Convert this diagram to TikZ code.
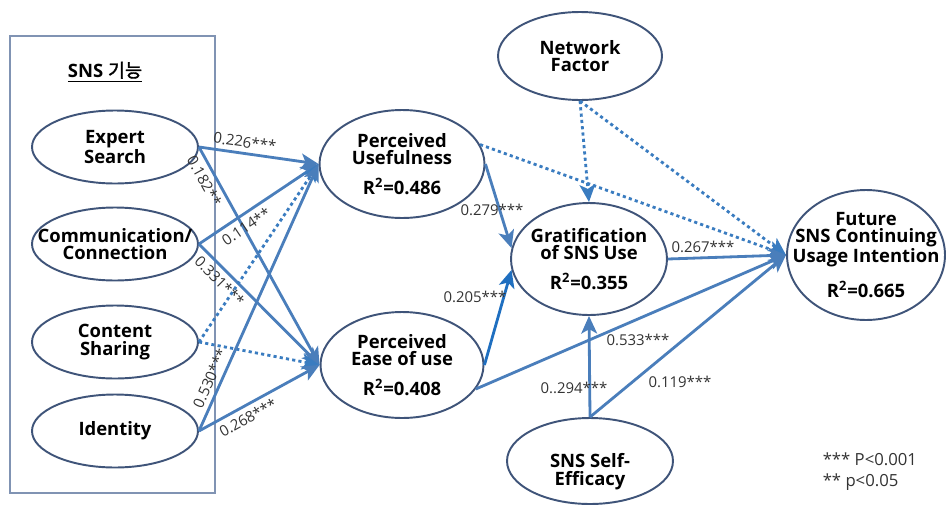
\documentclass[tikz,border=0pt]{standalone}
\usepackage{fontspec}
\setmainfont{Open Sans}
\newfontfamily\kr[AutoFakeBold=2]{Noto Sans CJK KR}
\usepackage{tikz}
\usetikzlibrary{arrows.meta,shapes.geometric}
\definecolor{rand}{RGB}{63,84,121}
\definecolor{ramme}{RGB}{128,147,179}
\definecolor{linie}{RGB}{74,126,187}
\definecolor{klar}{RGB}{31,111,192}
\definecolor{prikfarve}{RGB}{58,124,192}
\tikzset{
    >={Stealth[length=10pt, width=9pt, inset=2.5pt]},
    faktor/.style={
           ellipse,
           draw=rand, line width=1.1pt,
           inner sep=0pt},
    tekst/.style={
           align=center,
           font=\fontsize{10.5}{10}\selectfont\bfseries},
    pil/.style={
           ->,
           draw=linie, line width=1.6pt},
    prik/.style={
           ->,
           draw=prikfarve, line width=1.6pt,
           dash pattern=on 1.8pt off 1.8pt},
    koef/.style={
           text=black!80,
           inner sep=2.5pt,
           font=\fontsize{8.5}{8.5}\selectfont}
}

\begin{document}
\begin{tikzpicture}[x=0.02cm, y=-0.02cm]
        \useasboundingbox (0,0) rectangle (946,504);
        % SNS functions frame
        \draw[ramme, line width=0.8pt] (10,36) rectangle (215,493);
        \node[tekst] (sns) at (105,72) {\underline{SNS {\kr 기능}}};
        % constructs
        \node[faktor, minimum width=3.32cm, minimum height=1.46cm,
              label={[tekst]center:Expert\\Search}] (es) at (115,147) {};
        \node[faktor, minimum width=3.32cm, minimum height=1.46cm,
              label={[tekst]center:Communication/\\Connection}] (cc) at (115,244) {};
        \node[faktor, minimum width=3.32cm, minimum height=1.46cm,
              label={[tekst]center:Content\\Sharing}] (cs) at (115,342) {};
        \node[faktor, minimum width=3.32cm, minimum height=1.46cm,
              label={[tekst]center:Identity}] (id) at (115,431) {};
        \node[faktor, minimum width=3.3cm, minimum height=2.16cm,
              label={[tekst]center:Perceived\\Usefulness\\[7pt]R\textsuperscript{2}=0.486}] (pu) at (402,164) {};
        \node[faktor, minimum width=3.26cm, minimum height=2.12cm,
              label={[tekst]center:Perceived\\Ease of use\\[7pt]R\textsuperscript{2}=0.408}] (pe) at (402,365) {};
        \node[faktor, minimum width=3.28cm, minimum height=1.76cm,
              label={[tekst]center:Network\\Factor}] (nf) at (580,56) {};
        \node[faktor, minimum width=3.12cm, minimum height=2.24cm,
              label={[tekst]center:Gratification\\of SNS Use\\[7pt]R\textsuperscript{2}=0.355}] (gr) at (589,259) {};
        \node[faktor, minimum width=3.32cm, minimum height=1.72cm,
              label={[tekst, yshift=-6pt]center:SNS Self-\\Efficacy}] (se) at (590,461) {};
        \node[faktor, minimum width=3.16cm, minimum height=2.6cm,
              label={[tekst]center:Future\\SNS Continuing\\Usage Intention\\[7pt]R\textsuperscript{2}=0.665}] (fu) at (866,255) {};
        % paths from SNS functions
        \draw[pil] (es.east) -- node[koef, sloped, above, pos=0.37] {0.226***} (pu.west);
        \draw[pil] (es.east) -- node[koef, sloped, below, pos=0.13] {0.182**} (pe.west);
        \draw[pil] (cc.east) -- node[koef, sloped, below, pos=0.34] {0.114**} (pu.west);
        \draw[pil] (cc.east) -- node[koef, sloped, below, pos=0.24] {0.331***} (pe.west);
        \draw[prik] (cs.east) -- (pu.west);
        \draw[prik] (cs.east) -- (pe.west);
        \draw[pil] (id.east) -- node[koef, sloped, above, pos=0.18] {0.530***} (pu.west);
        \draw[pil] (id.east) -- node[koef, sloped, below, pos=0.36] {0.268***} (pe.west);
        % paths to gratification and intention
        \draw[pil] (pu.east) -- (gr.172);
        \draw[pil, draw=klar] (pe.east) -- (gr.188);
        \draw[prik] (pu.14) -- (fu.west);
        \draw[prik] (nf.south) -- (gr.north);
        \draw[prik] (nf.south) -- (fu.west);
        \draw[pil] (gr.east) -- (fu.west);
        \draw[pil] (pe.-18) -- (fu.west);
        \draw[pil] (se.north) -- (gr.south);
        \draw[pil] (se.north) -- (fu.west);
        % coefficients
        \node[koef] (k1) at (492,210) {0.279***};
        \node[koef] (k2) at (475,297) {0.205***};
        \node[koef] (k3) at (703,247) {0.267***};
        \node[koef] (k4) at (638,340) {0.533***};
        \node[koef] (k5) at (574,388) {0..294***};
        \node[koef] (k6) at (680,382) {0.119***};
        % legend
        \node[koef, anchor=west, align=left, font=\fontsize{9.5}{12}\selectfont] (leg) at (818,472)
             {*** P<0.001\\** p<0.05};
    \end{tikzpicture}
\end{document}
